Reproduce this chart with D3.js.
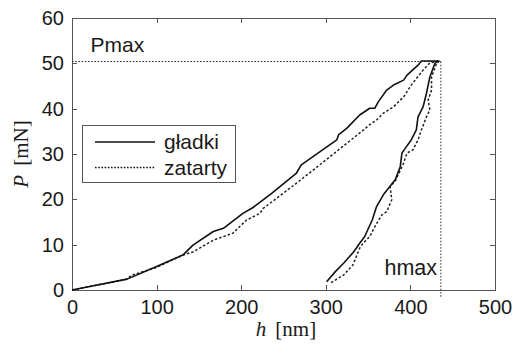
<!DOCTYPE html>
<html><head><meta charset="utf-8">
<script src="https://cdn.jsdelivr.net/npm/d3@7"></script>
<style>body{margin:0;background:#fff}svg{display:block}</style>
</head><body><svg id="c" width="513" height="345"></svg>
<script>
const xTicks = [0, 100, 200, 300, 400, 500];
const yTicks = [0, 10, 20, 30, 40, 50, 60];
const seriesNames = ["gładki", "zatarty"];
// gładki (smooth): loading then unloading
const smoothH = [0, 65, 100, 131, 143, 167, 179, 202, 214, 236, 265, 271, 313, 315, 325, 340, 352, 358, 362, 372, 380, 392, 396, 409, 413, 433,
  429, 423, 419, 415, 409, 407, 401, 394, 390, 388, 382, 368, 360, 355, 346, 340, 336, 332, 321, 311, 301];
const smoothP = [0, 2.4, 5.2, 7.7, 9.9, 12.9, 13.6, 16.9, 18.2, 21.3, 25.7, 27.6, 33.1, 34.2, 35.7, 38.6, 40.1, 40.1, 41.5, 44.1, 45.2, 46.3, 47.4, 49.6, 50.5, 50.5,
  50, 47, 43.4, 40.4, 38.2, 35.3, 33.1, 31.3, 30.2, 27.2, 24.3, 21, 18.4, 15.5, 11.8, 10.3, 9.2, 8.2, 5.9, 4, 1.8];
// zatarty (worn): loading then unloading
const wornH = [0, 65, 70, 100, 131, 143, 167, 190, 206, 222, 226, 265, 305, 325, 342, 352, 360, 368, 380, 392, 401, 415, 423, 435,
  431, 425, 425, 421, 423, 419, 413, 409, 403, 396, 392, 382, 376, 378, 372, 366, 358, 352, 344, 340, 332, 321, 305];
const wornP = [0, 2.4, 3.2, 5, 7.7, 8.4, 11, 12.5, 15.4, 16.9, 18, 23.5, 29.4, 32.4, 34.9, 36.5, 37.5, 39, 40.4, 42.6, 45.2, 48.5, 50.1, 50.6,
  50, 47, 44.1, 41.9, 39.7, 38.2, 35.3, 33.1, 30.9, 30.2, 28, 24, 22.8, 19.9, 17.3, 16.5, 14, 11.8, 10.3, 9.2, 5.5, 3.3, 1.5];
const Pmax = 50.4, hmax = 436, hmaxLineBottom = -1.5;

const svg = d3.select("#c");
const L = 72, T = 18, R = 495, B = 290;
const x = d3.scaleLinear().domain([0, 500]).range([L, R]);
const y = d3.scaleLinear().domain([0, 60]).range([B, T]);
const sans = "'Liberation Sans', Arial, sans-serif";
const serif = "'Liberation Serif', 'Times New Roman', serif";
const axisColor = "#555";

// frame
svg.append("rect").attr("x", L).attr("y", T).attr("width", R - L).attr("height", B - T)
  .attr("fill", "none").attr("stroke", axisColor).attr("stroke-width", 1).attr("shape-rendering", "crispEdges");

// axes with inward ticks
const fmt = d3.format("d");
const gx = svg.append("g").attr("transform", `translate(0,${B})`)
  .call(d3.axisBottom(x).tickValues(xTicks).tickFormat(fmt).tickSizeInner(-5).tickSizeOuter(0).tickPadding(10));
const gxt = svg.append("g").attr("transform", `translate(0,${T})`)
  .call(d3.axisTop(x).tickValues(xTicks).tickFormat("").tickSizeInner(-5).tickSizeOuter(0));
const gy = svg.append("g").attr("transform", `translate(${L},0)`)
  .call(d3.axisLeft(y).tickValues(yTicks).tickFormat(fmt).tickSizeInner(-5).tickSizeOuter(0).tickPadding(8));
const gyr = svg.append("g").attr("transform", `translate(${R},0)`)
  .call(d3.axisRight(y).tickValues(yTicks).tickFormat("").tickSizeInner(-5).tickSizeOuter(0));
[gx, gxt, gy, gyr].forEach(g => {
  g.select(".domain").remove();
  g.selectAll(".tick line").attr("stroke", axisColor).attr("shape-rendering", "crispEdges");
  g.selectAll("text").attr("font-family", sans).attr("font-size", 20).attr("fill", "#1a1a1a");
});

// reference lines Pmax / hmax
svg.append("line").attr("x1", x(0)).attr("x2", x(hmax)).attr("y1", y(Pmax)).attr("y2", y(Pmax))
  .attr("stroke", "#333").attr("stroke-width", 1).attr("stroke-dasharray", "1.6,1.6");
svg.append("line").attr("x1", x(hmax)).attr("x2", x(hmax)).attr("y1", y(Pmax)).attr("y2", y(hmaxLineBottom))
  .attr("stroke", "#333").attr("stroke-width", 1).attr("stroke-dasharray", "1.6,1.6");

// curves
const line = d3.line().x(d => x(d[0])).y(d => y(d[1]));
const smooth = smoothH.map((h, i) => [h, smoothP[i]]);
const worn = wornH.map((h, i) => [h, wornP[i]]);
svg.append("path").datum(worn).attr("d", line).attr("fill", "none")
  .attr("stroke", "#222").attr("stroke-width", 1.5).attr("stroke-dasharray", "2.5,2").attr("stroke-linejoin", "round");
svg.append("path").datum(smooth).attr("d", line).attr("fill", "none")
  .attr("stroke", "#111").attr("stroke-width", 1.6).attr("stroke-linejoin", "round");

// annotations
svg.append("text").attr("x", x(22)).attr("y", y(52.5)).text("Pmax")
  .attr("font-family", sans).attr("font-size", 21).attr("fill", "#1a1a1a");
svg.append("text").attr("x", x(431.5)).attr("y", y(3.3)).attr("text-anchor", "end").text("hmax")
  .attr("font-family", sans).attr("font-size", 21.5).attr("fill", "#1a1a1a");

// legend
const lg = svg.append("g");
lg.append("rect").attr("x", 82.5).attr("y", 125.5).attr("width", 153).attr("height", 57)
  .attr("fill", "#fff").attr("stroke", axisColor).attr("stroke-width", 1);
const legendStyles = [{dash: null, w: 1.6}, {dash: "1.6,1.6", w: 1.3}];
seriesNames.forEach((name, i) => {
  const yy = 142 + i * 25.5;
  lg.append("line").attr("x1", 95).attr("x2", 155).attr("y1", yy).attr("y2", yy)
    .attr("stroke", "#111").attr("stroke-width", legendStyles[i].w)
    .attr("stroke-dasharray", legendStyles[i].dash);
  lg.append("text").attr("x", 164).attr("y", yy + 7).text(name)
    .attr("font-family", sans).attr("font-size", 21).attr("fill", "#1a1a1a");
});

// axis titles
const xt = svg.append("text").attr("x", 286).attr("y", 336).attr("text-anchor", "middle")
  .attr("font-family", serif).attr("font-size", 21).attr("fill", "#1a1a1a");
xt.append("tspan").attr("font-style", "italic").text("h");
xt.append("tspan").attr("dx", 9).text("[nm]");
const yt = svg.append("text").attr("transform", `translate(28,${(T + B) / 2}) rotate(-90)`).attr("text-anchor", "middle")
  .attr("font-family", serif).attr("font-size", 21).attr("fill", "#1a1a1a");
yt.append("tspan").attr("font-style", "italic").text("P");
yt.append("tspan").attr("dx", 9).text("[mN]");
</script></body></html>
